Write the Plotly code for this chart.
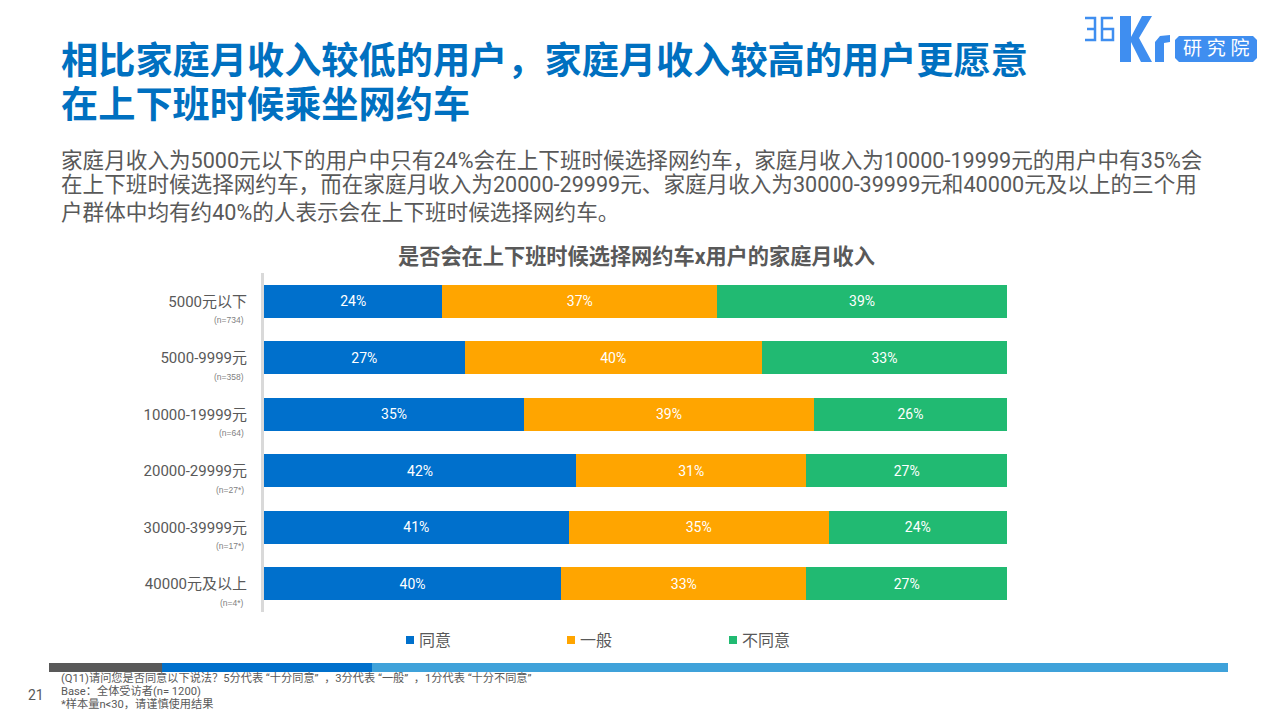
import plotly.graph_objects as go

# chart data
categories = ['5000元以下', '5000-9999元', '10000-19999元', '20000-29999元', '30000-39999元', '40000元及以上']
sample_sizes = ['(n=734)', '(n=358)', '(n=64)', '(n=27*)', '(n=17*)', '(n=4*)']
agree = [24, 27, 35, 42, 41, 40]
neutral = [37, 40, 39, 31, 35, 33]
disagree = [39, 33, 26, 27, 24, 27]

title_lines = ['相比家庭月收入较低的用户，家庭月收入较高的用户更愿意', '在上下班时候乘坐网约车']
body_lines = ['家庭月收入为5000元以下的用户中只有24%会在上下班时候选择网约车，家庭月收入为10000-19999元的用户中有35%会',
              '在上下班时候选择网约车，而在家庭月收入为20000-29999元、家庭月收入为30000-39999元和40000元及以上的三个用',
              '户群体中均有约40%的人表示会在上下班时候选择网约车。']
foot_lines = ['(Q11)请问您是否同意以下说法？5分代表 “十分同意” \u00a0，3分代表 “一般” \u00a0，1分代表 “十分不同意”',
              'Base：全体受访者(n= 1200)',
              '*样本量n<30，请谨慎使用结果']

W, H = 1280, 720
FONT = 'Roboto, Noto Sans CJK SC'
BLUE = '#0070CC'
ORANGE = '#FFA500'
GREEN = '#21BA72'
LOGO = '#3F8EF0'


def px(x):
    return x / W


def py(y):
    return 1 - y / H


def text(x, y, s, size, color='#595959', anchor='left', bold=False):
    fig.add_annotation(xref='paper', yref='paper', x=px(x), y=py(y), text='<b>%s</b>' % s if bold else s,
                       showarrow=False, xanchor=anchor, yanchor='middle', borderpad=0,
                       font=dict(family=FONT, size=size, color=color))


def outline(points, fill=None, color=LOGO, width=2.5):
    # logo pieces are drawn as paths, points in picture pixels
    d = 'M' + ' L'.join('%f,%f' % (px(a), py(b)) for a, b in points)
    if fill:
        fig.add_shape(type='path', xref='paper', yref='paper', path=d + ' Z', fillcolor=fill, line_width=0)
    else:
        fig.add_shape(type='path', xref='paper', yref='paper', path=d, line=dict(color=color, width=width))


fig = go.Figure()
for name, vals, col in [('同意', agree, BLUE), ('一般', neutral, ORANGE), ('不同意', disagree, GREEN)]:
    fig.add_trace(go.Bar(y=categories, x=vals, name=name, orientation='h',
                         marker=dict(color=col, line=dict(width=0)),
                         text=['%d%%' % v for v in vals], textposition='inside', insidetextanchor='middle',
                         textfont=dict(family=FONT, size=14, color='white'), textangle=0))

fig.update_layout(
    width=W, height=H, autosize=False,
    margin=dict(l=0, r=0, t=0, b=0),
    paper_bgcolor='white', plot_bgcolor='white',
    barmode='stack', bargap=0.41,
    showlegend=False,
    xaxis=dict(domain=[px(264), px(1007)], range=[0, 100], visible=False),
    yaxis=dict(domain=[py(612), py(273)], autorange='reversed', showgrid=False,
               showline=True, linecolor='#D9D9D9', linewidth=3,
               ticks='outside', ticklen=11, tickcolor='rgba(0,0,0,0)',
               tickfont=dict(family=FONT, size=15, color='#595959')),
)

# sample sizes under the category labels
for cat, n in zip(categories, sample_sizes):
    fig.add_annotation(xref='paper', yref='y', x=px(246), y=cat, yshift=-19, text=n, showarrow=False,
                       xanchor='right', yanchor='middle', font=dict(family='Liberation Sans', size=8.5, color='#7F7F7F'))

# legend row
for x, name, col in [(406, '同意', BLUE), (567, '一般', ORANGE), (729, '不同意', GREEN)]:
    fig.add_shape(type='rect', xref='paper', yref='paper', x0=px(x), x1=px(x + 8), y0=py(644), y1=py(636),
                  fillcolor=col, line_width=0)
    text(x + 12, 640, name, 16)

# headings
for i, s in enumerate(title_lines):
    text(60, 61 + i * 44, s, 37.2, color='#0070C0', bold=True)
for y, s in zip([160, 185, 212], body_lines):
    text(60, y, s, 21.6)
text(636, 256, '是否会在上下班时候选择网约车x用户的家庭月收入', 21.2, bold=True, anchor='center')

# footer band
for x0, x1, col in [(49, 162, '#595959'), (162, 372, BLUE), (372, 1228, '#3FA2DA')]:
    fig.add_shape(type='rect', xref='paper', yref='paper', x0=px(x0), x1=px(x1), y0=py(672), y1=py(663),
                  fillcolor=col, line_width=0)
for y, s in zip([678, 691, 704], foot_lines):
    text(60, y, s, 11.2)
text(36, 695, '21', 14, anchor='center')

# logo
outline([(1085, 18), (1095, 18), (1095, 40), (1085, 40)])
outline([(1087, 29), (1095, 29)])
outline([(1113, 18), (1102, 18), (1102, 40), (1113, 40), (1113, 29), (1102, 29)])
outline([(1120, 16), (1131, 16), (1131, 37), (1142, 16), (1152, 16), (1139, 38), (1152, 62), (1141, 62),
         (1131, 42), (1131, 62), (1120, 62)], fill=LOGO)
outline([(1155, 62), (1155, 42), (1160, 36), (1170, 35), (1170, 42), (1164, 43), (1164, 62)], fill=LOGO)
outline([(1179, 36), (1253, 36), (1257, 40), (1257, 58), (1253, 62), (1179, 62), (1175, 58), (1175, 40)], fill=LOGO)
text(1216, 49, '研 究 院', 19, color='white', anchor='center')

fig.write_html("out.html", config=dict(displayModeBar=False), post_script="document.body.style.margin='0';")
